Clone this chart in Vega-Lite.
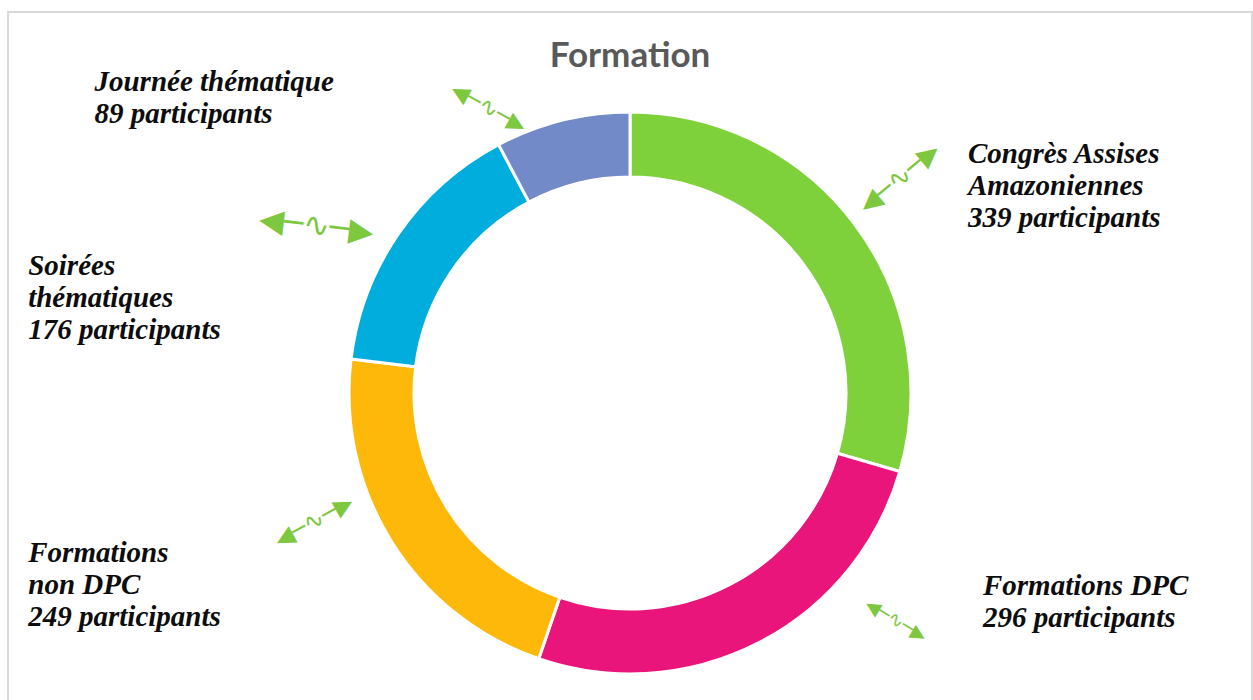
{
  "$schema": "https://vega.github.io/schema/vega-lite/v6.json",
  "width": 1244,
  "height": 762,
  "autosize": {"type": "none"},
  "padding": {"left": 8, "top": 12, "right": 1, "bottom": -74},
  "background": "white",
  "config": {"view": {"stroke": null}},
  "layer": [
    {
      "data": {"values": [{"titre": "Formation"}]},
      "layer": [
        {
          "mark": {"type": "rect", "fill": "transparent", "stroke": "#d9d9d9", "strokeWidth": 2},
          "encoding": {}
        },
        {
          "mark": {"type": "text", "align": "center", "baseline": "alphabetic", "dy": -326, "font": "Lato", "fontSize": 35, "fontWeight": "bold", "color": "#595959"},
          "encoding": {"text": {"field": "titre"}}
        }
      ]
    },
    {
      "data": {"values": [
        {"categorie": "Congrès Assises Amazoniennes", "participants": 339, "etiquette": "Congrès Assises\nAmazoniennes\n339 participants"},
        {"categorie": "Formations DPC", "participants": 296, "etiquette": "Formations DPC\n296 participants"},
        {"categorie": "Formations non DPC", "participants": 249, "etiquette": "Formations\nnon DPC\n249 participants"},
        {"categorie": "Soirées thématiques", "participants": 176, "etiquette": "Soirées\nthématiques\n176 participants"},
        {"categorie": "Journée thématique", "participants": 89, "etiquette": "Journée thématique\n89 participants"}
      ]},
      "encoding": {
        "theta": {"field": "participants", "type": "quantitative", "stack": true},
        "order": {"field": "participants", "type": "quantitative", "sort": "descending"}
      },
      "layer": [
        {
          "mark": {"type": "arc", "outerRadius": 281, "innerRadius": 216, "stroke": "white", "strokeWidth": 3},
          "encoding": {
            "color": {"field": "categorie", "type": "nominal", "legend": null,
              "scale": {"domain": ["Congrès Assises Amazoniennes", "Formations DPC", "Formations non DPC", "Soirées thématiques", "Journée thématique"],
                        "range": ["#7FD13B", "#EA157A", "#FEB80A", "#00ADDC", "#738AC8"]}}
          }
        },
        {
          "mark": {"type": "text", "radius": 330, "align": "left", "baseline": "alphabetic", "dx": 74, "dy": -32, "font": "Liberation Serif", "fontStyle": "italic", "fontWeight": "bold", "fontSize": 29, "lineHeight": 32, "lineBreak": "\n", "color": "#0d0d0d"},
          "encoding": {"text": {"condition": {"test": "datum.categorie === 'Congrès Assises Amazoniennes'", "field": "etiquette"}, "value": ""}}
        },
        {
          "mark": {"type": "text", "radius": 330, "align": "left", "baseline": "alphabetic", "dx": 201, "dy": -91, "font": "Liberation Serif", "fontStyle": "italic", "fontWeight": "bold", "fontSize": 29, "lineHeight": 32, "lineBreak": "\n", "color": "#0d0d0d"},
          "encoding": {"text": {"condition": {"test": "datum.categorie === 'Formations DPC'", "field": "etiquette"}, "value": ""}}
        },
        {
          "mark": {"type": "text", "radius": 330, "align": "left", "baseline": "alphabetic", "dx": -322, "dy": -6, "font": "Liberation Serif", "fontStyle": "italic", "fontWeight": "bold", "fontSize": 29, "lineHeight": 32, "lineBreak": "\n", "color": "#0d0d0d"},
          "encoding": {"text": {"condition": {"test": "datum.categorie === 'Formations non DPC'", "field": "etiquette"}, "value": ""}}
        },
        {
          "mark": {"type": "text", "radius": 330, "align": "left", "baseline": "alphabetic", "dx": -330, "dy": 69, "font": "Liberation Serif", "fontStyle": "italic", "fontWeight": "bold", "fontSize": 29, "lineHeight": 32, "lineBreak": "\n", "color": "#0d0d0d"},
          "encoding": {"text": {"condition": {"test": "datum.categorie === 'Soirées thématiques'", "field": "etiquette"}, "value": ""}}
        },
        {
          "mark": {"type": "text", "radius": 330, "align": "left", "baseline": "alphabetic", "dx": -456, "dy": 18, "font": "Liberation Serif", "fontStyle": "italic", "fontWeight": "bold", "fontSize": 29, "lineHeight": 32, "lineBreak": "\n", "color": "#0d0d0d"},
          "encoding": {"text": {"condition": {"test": "datum.categorie === 'Journée thématique'", "field": "etiquette"}, "value": ""}}
        },
        {
          "mark": {"type": "text", "radius": 330, "align": "center", "baseline": "middle", "angle": 320.4, "dx": 15, "dy": -9, "font": "DejaVu Sans", "fontSize": 27, "color": "#7DC83F"},
          "encoding": {"text": {"condition": {"test": "datum.categorie === 'Congrès Assises Amazoniennes'", "value": "◀─∿─▶"}, "value": ""}}
        },
        {
          "mark": {"type": "text", "radius": 330, "align": "center", "baseline": "middle", "angle": 31, "dx": 64, "dy": -115, "font": "DejaVu Sans", "fontSize": 19, "color": "#7DC83F"},
          "encoding": {"text": {"condition": {"test": "datum.categorie === 'Formations DPC'", "value": "◀─∿─▶"}, "value": ""}}
        },
        {
          "mark": {"type": "text", "radius": 330, "align": "center", "baseline": "middle", "angle": 331, "dx": -9, "dy": -58, "font": "DejaVu Sans", "fontSize": 24, "color": "#7DC83F"},
          "encoding": {"text": {"condition": {"test": "datum.categorie === 'Formations non DPC'", "value": "◀─∿─▶"}, "value": ""}}
        },
        {
          "mark": {"type": "text", "radius": 330, "align": "center", "baseline": "middle", "angle": 7, "dx": -39, "dy": 25, "font": "DejaVu Sans", "fontSize": 32, "color": "#7DC83F"},
          "encoding": {"text": {"condition": {"test": "datum.categorie === 'Soirées thématiques'", "value": "◀─∿─▶"}, "value": ""}}
        },
        {
          "mark": {"type": "text", "radius": 330, "align": "center", "baseline": "middle", "angle": 29, "dx": -37, "dy": 61, "font": "DejaVu Sans", "fontSize": 23, "color": "#7DC83F"},
          "encoding": {"text": {"condition": {"test": "datum.categorie === 'Journée thématique'", "value": "◀─∿─▶"}, "value": ""}}
        }
      ]
    }
  ]
}
